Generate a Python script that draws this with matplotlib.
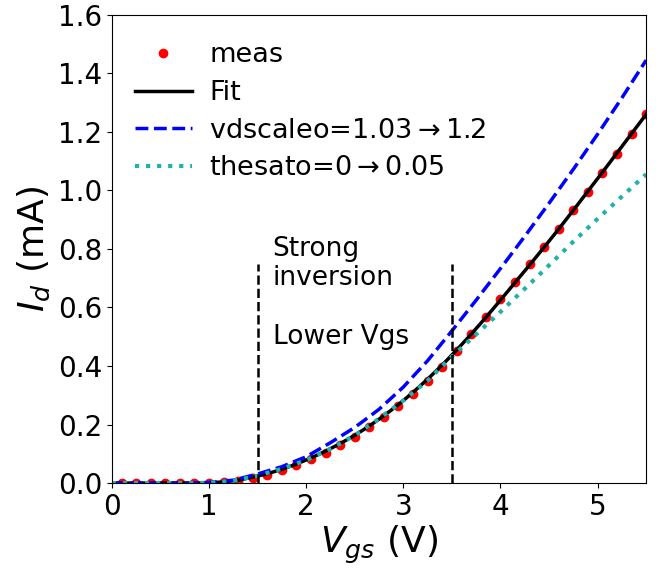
import numpy as np
import matplotlib
matplotlib.use("Agg")
import matplotlib.pyplot as plt

# Measured drain current vs gate voltage
vgs_meas = np.linspace(0.1, 5.5, 37)
id_meas = [0.0, 0.0, 0.0, 0.0, 0.0, 0.0, 0.001, 0.003, 0.008, 0.017,
           0.029, 0.044, 0.062, 0.082, 0.104, 0.130, 0.158, 0.190, 0.225, 0.263,
           0.305, 0.350, 0.398, 0.452, 0.508, 0.567, 0.628, 0.688, 0.748, 0.808,
           0.869, 0.932, 0.995, 1.060, 1.126, 1.193, 1.260]

# Model fit
vgs_fit = np.concatenate([[0.0], vgs_meas])
id_fit = [0.0, 0.0, 0.0, 0.0, 0.0, 0.0, 0.0, 0.001, 0.004, 0.010, 0.020,
          0.032, 0.047, 0.065, 0.086, 0.109, 0.135, 0.163, 0.195, 0.230, 0.268,
          0.310, 0.355, 0.403, 0.455, 0.509, 0.566, 0.625, 0.685, 0.745, 0.806,
          0.868, 0.932, 0.997, 1.062, 1.128, 1.194, 1.260]

# Parameter sweeps
vgs_sweep = np.linspace(0.0, 5.5, 23)
id_vdscale = [0.0, 0.0, 0.0, 0.0, 0.002, 0.010, 0.031, 0.056, 0.090, 0.138,
              0.190, 0.252, 0.328, 0.418, 0.520, 0.625, 0.733, 0.843, 0.956,
              1.072, 1.192, 1.316, 1.445]
id_thesat = [0.0, 0.0, 0.0, 0.0, 0.001, 0.008, 0.025, 0.049, 0.078, 0.117,
             0.163, 0.220, 0.282, 0.350, 0.432, 0.508, 0.585, 0.664, 0.744,
             0.825, 0.903, 0.979, 1.055]

# Region boundaries
vgs_bounds = [1.5, 3.5]
bound_top = 0.75

fig = plt.figure(figsize=(6.58, 5.69), dpi=100)
ax = fig.add_axes([0.170, 0.151, 0.812, 0.823])

ax.plot(vgs_meas, id_meas, 'o', color='red', markersize=6, label='meas')
ax.plot(vgs_fit, id_fit, '-', color='black', linewidth=2.5, label='Fit')
ax.plot(vgs_sweep, id_vdscale, '--', color='blue', linewidth=2.5,
        label='vdscaleo=1.03$\\rightarrow$1.2')
ax.plot(vgs_sweep, id_thesat, ':', color='lightseagreen', linewidth=3,
        label='thesato=0$\\rightarrow$0.05')

for xb in vgs_bounds:
    ax.plot([xb, xb], [0, bound_top], '--', color='black', linewidth=1.8)

ax.text(1.655, 0.845, 'Strong\ninversion', fontsize=19, va='top', ha='left',
        linespacing=1.15)
ax.text(1.655, 0.50, 'Lower Vgs', fontsize=19, va='center', ha='left')

ax.set_xlim(0, 5.5)
ax.set_ylim(0, 1.6)
ax.set_xticks([0, 1, 2, 3, 4, 5])
ax.set_yticks(np.arange(0, 1.61, 0.2))
ax.yaxis.set_major_formatter(matplotlib.ticker.FormatStrFormatter('%.1f'))
ax.tick_params(labelsize=20)
ax.set_xlabel('$V_{gs}$ (V)', fontsize=26, labelpad=2)
ax.set_ylabel('$I_d$ (mA)', fontsize=26, labelpad=4)

ax.legend(loc='upper left', bbox_to_anchor=(0.0, 0.99), frameon=False,
          fontsize=19.5, handlelength=2.1, handletextpad=0.65,
          borderaxespad=0.45, labelspacing=0.43)

fig.savefig('out.png', dpi=100)
